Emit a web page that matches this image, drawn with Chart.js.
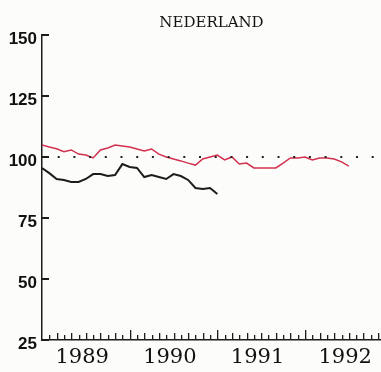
<!DOCTYPE html>
<html>
<head>
<meta charset="utf-8">
<script src="https://cdn.jsdelivr.net/npm/chart.js@4.4.1/dist/chart.umd.min.js"></script>
<style>
    html, body { margin: 0; padding: 0; background: #fcfcfa; }
    #wrap { width: 381px; height: 372px; }
</style>
</head>
<body>
<div id="wrap"><canvas id="chart" width="381" height="372"></canvas></div>
<script>
// Monthly index values, starting January 1989
const redValues = [104.9, 104.1, 103.4, 102.2, 102.9, 101.2, 100.8, 99.6, 102.9, 103.7,
                   104.9, 104.5, 104.1, 103.3, 102.5, 103.3, 101.2, 100, 99.2, 98.4,
                   97.5, 96.7, 99.2, 100, 100.8, 98.8, 100, 97.1, 97.5, 95.5,
                   95.5, 95.5, 95.5, 97.5, 99.6, 99.6, 100, 98.8, 99.6, 99.6,
                   99.2, 98, 96.3];
const blackValues = [95.5, 93.4, 91, 90.6, 89.8, 89.8, 91, 93, 93, 92.2,
                     92.6, 97.1, 95.9, 95.5, 91.8, 92.6, 91.8, 91, 93, 92.2,
                     90.6, 87.3, 86.9, 87.3, 84.8];
const yearLabels = ['1989', '1990', '1991', '1992'];
const yTicks = [25, 50, 75, 100, 125, 150];
const refLevel = 100;

const xMax = 46.4;   // months shown on the axis

// Tick marks drawn inside the plot, like the original
const tickMarks = {
    id: 'tickMarks',
    afterDraw: function(chart) {
        const c = chart.ctx;
        const xs = chart.scales.x;
        const ys = chart.scales.y;
        const left = chart.chartArea.left;
        const bottom = chart.chartArea.bottom;
        c.save();
        c.fillStyle = '#1c1c1c';
        yTicks.forEach(v => {
            const py = Math.round(ys.getPixelForValue(v));
            c.fillRect(left, py - 1, 7, 2);
        });
        for (let m = 1; m <= Math.floor(xMax); m++) {
            const px = Math.round(xs.getPixelForValue(m));
            const len = m % 12 === 0 ? 10 : (m % 2 === 0 ? 7 : 5);
            c.fillRect(px, bottom - len, 1.3, len);
        }
        c.restore();
    }
};

const ctx = document.getElementById('chart').getContext('2d');
new Chart(ctx, {
    type: 'line',
    data: {
        datasets: [
            {
                data: [{ x: 0, y: refLevel }, { x: xMax, y: refLevel }],
                borderColor: '#222',
                borderWidth: 2,
                borderDash: [2, 13.7],
                pointRadius: 0
            },
            {
                data: blackValues.map((v, i) => ({ x: i, y: v })),
                borderColor: '#1c1c1c',
                borderWidth: 2,
                pointRadius: 0,
                tension: 0
            },
            {
                data: redValues.map((v, i) => ({ x: i, y: v })),
                borderColor: '#d2304f',
                borderWidth: 1.5,
                pointRadius: 0,
                tension: 0
            }
        ]
    },
    options: {
        responsive: false,
        animation: false,
        layout: { padding: 0 },
        plugins: {
            legend: { display: false },
            tooltip: { enabled: false },
            title: {
                display: true,
                text: 'NEDERLAND',
                fullSize: false,
                color: '#111',
                font: { family: 'DejaVu Serif', size: 15, weight: 'normal' },
                padding: { top: 14, bottom: 3 }
            }
        },
        scales: {
            x: {
                type: 'linear',
                min: 0,
                max: xMax,
                afterBuildTicks: function(scale) {
                    scale.ticks = yearLabels.map((lbl, i) => ({ value: 5.5 + 12 * i }));
                },
                afterFit: function(scale) { scale.height = 32; },
                ticks: {
                    autoSkip: false,
                    maxRotation: 0,
                    padding: 5,
                    color: '#111',
                    font: { family: 'DejaVu Serif', size: 21 },
                    callback: (v, i) => yearLabels[i]
                },
                grid: { display: true, drawOnChartArea: false, drawTicks: false },
                border: { color: '#1c1c1c', width: 1.5 }
            },
            y: {
                min: 25,
                max: 150,
                afterBuildTicks: function(scale) {
                    scale.ticks = yTicks.map(v => ({ value: v }));
                },
                afterFit: function(scale) { scale.width = 42; },
                ticks: {
                    padding: 5,
                    labelOffset: 4,
                    color: '#111',
                    font: { family: 'Liberation Sans', size: 17, weight: 'bold' }
                },
                grid: { display: true, drawOnChartArea: false, drawTicks: false },
                border: { color: '#1c1c1c', width: 1.5 }
            }
        }
    },
    plugins: [tickMarks]
});
</script>
</body>
</html>
